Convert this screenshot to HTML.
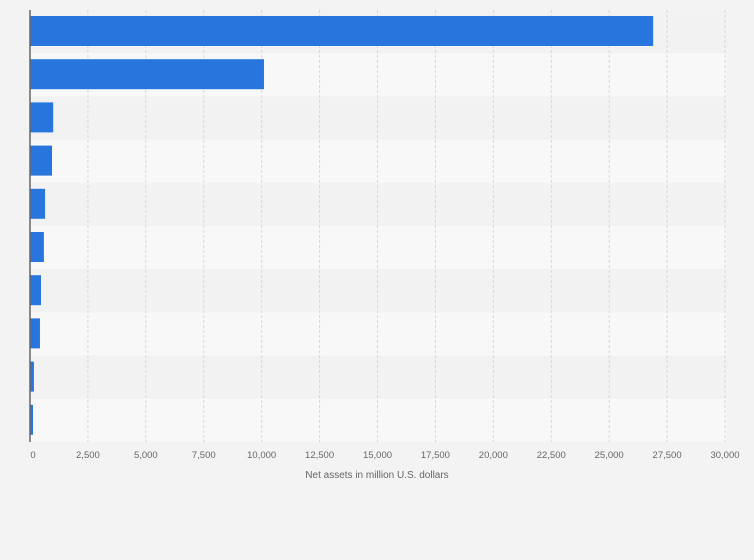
<!DOCTYPE html>
<html><head><meta charset="utf-8"><style>
html,body{margin:0;padding:0;background:#f3f3f3;}
svg{display:block;font-family:"Liberation Sans",sans-serif;}
</style></head><body>
<svg width="754" height="560">
<g id="bands"></g><g id="grid"></g><g id="bars"></g><g id="ticks"></g>
<line x1="30" y1="10" x2="30" y2="442" stroke="#666" stroke-width="1.5"/>
<text x="377" y="478" font-size="10" fill="#666" text-anchor="middle">Net assets in million U.S. dollars</text>
</svg>
<script>
const categories=["Fund 1","Fund 2","Fund 3","Fund 4","Fund 5","Fund 6","Fund 7","Fund 8","Fund 9","Fund 10"];
const values=[26900,10100,1000,950,650,600,475,430,170,130];
const tickValues=[0,2500,5000,7500,10000,12500,15000,17500,20000,22500,25000,27500,30000];
const tickLabels=["0","2,500","5,000","7,500","10,000","12,500","15,000","17,500","20,000","22,500","25,000","27,500","30,000"];
const NS="http://www.w3.org/2000/svg";
const X0=30,X1=725,XMAX=30000,TOP=10,BOT=442;
const rowH=(BOT-TOP)/categories.length;
function x(v){return X0+(X1-X0)*v/XMAX;}
function y(i){return TOP+i*rowH;}
function mk(t,a,p){const e=document.createElementNS(NS,t);for(const k in a)e.setAttribute(k,a[k]);p.appendChild(e);return e;}
const bands=document.getElementById('bands'),grid=document.getElementById('grid'),bars=document.getElementById('bars'),ticks=document.getElementById('ticks');
categories.forEach((c,i)=>{
  const b=mk('rect',{x:X0,y:y(i),width:X1+2-X0,height:rowH,fill:i%2?'#f8f8f8':'#f2f2f2'},bands);
  
  
});
tickValues.forEach((v,i)=>{
  if(v>0){const g=mk('line',{x1:x(v),y1:TOP,x2:x(v),y2:BOT,stroke:'#d8d8d8','stroke-dasharray':'3,2'},grid);
  
  }
  const t=mk('text',{x:x(v)+(i==0?3:0),y:458,'font-size':9.5,fill:'#666','text-anchor':'middle'},ticks);
  t.textContent=tickLabels[i];
  
  
});
values.forEach((v,i)=>{
  const r=mk('rect',{x:X0,y:y(i)+6,width:x(v)-X0,height:30,fill:'#2876dd'},bars);
  
  
  const tt=mk('title',{},r);tt.textContent=categories[i]+': '+v;
});
</script>
</body></html>
